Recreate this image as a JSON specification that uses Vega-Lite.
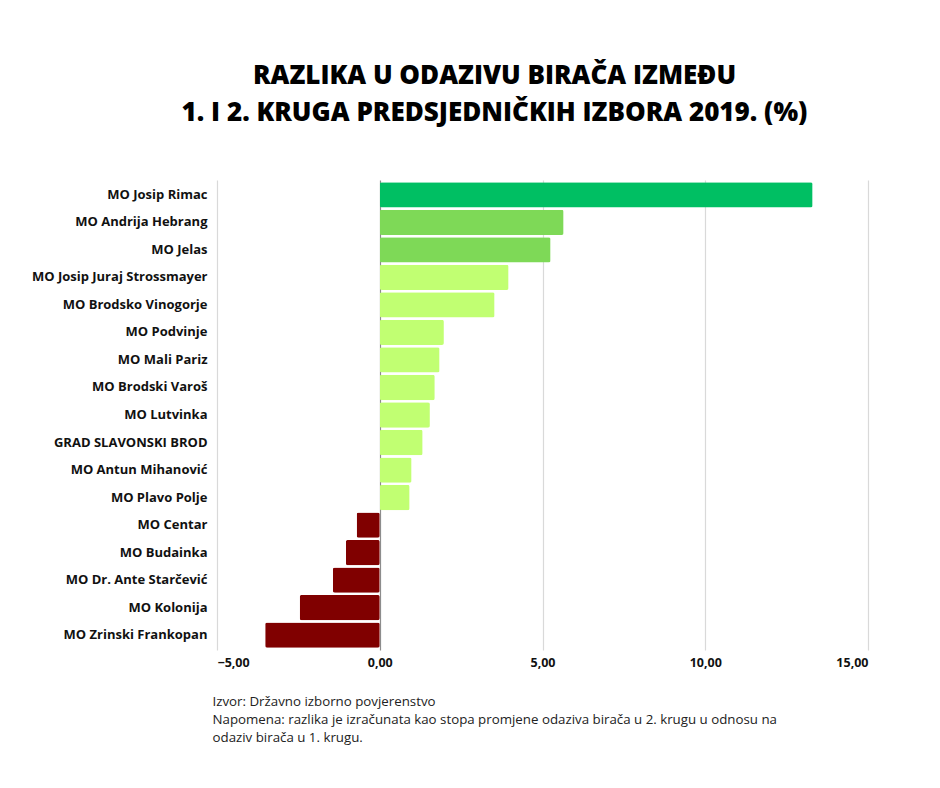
{
  "$schema": "https://vega.github.io/schema/vega-lite/v6.json",
  "autosize": "none",
  "width": 651,
  "height": 470,
  "padding": {"left": 217, "top": 180, "right": 72, "bottom": 138},
  "background": "white",
  "title": {
    "text": ["RAZLIKA U ODAZIVU BIRAČA IZMEĐU", "1. I 2. KRUGA PREDSJEDNIČKIH IZBORA 2019. (%)"],
    "font": "Open Sans",
    "fontSize": 26,
    "fontWeight": 800,
    "color": "#000000",
    "anchor": "middle",
    "frame": "group",
    "dx": -48,
    "offset": 54,
    "lineHeight": 37
  },
  "data": {
    "values": [
      {"mo": "MO Josip Rimac", "razlika": 13.30, "kategorija": "najveći rast"},
      {"mo": "MO Andrija Hebrang", "razlika": 5.65, "kategorija": "visoki rast"},
      {"mo": "MO Jelas", "razlika": 5.25, "kategorija": "visoki rast"},
      {"mo": "MO Josip Juraj Strossmayer", "razlika": 3.96, "kategorija": "rast"},
      {"mo": "MO Brodsko Vinogorje", "razlika": 3.53, "kategorija": "rast"},
      {"mo": "MO Podvinje", "razlika": 1.97, "kategorija": "rast"},
      {"mo": "MO Mali Pariz", "razlika": 1.84, "kategorija": "rast"},
      {"mo": "MO Brodski Varoš", "razlika": 1.69, "kategorija": "rast"},
      {"mo": "MO Lutvinka", "razlika": 1.54, "kategorija": "rast"},
      {"mo": "GRAD SLAVONSKI BROD", "razlika": 1.32, "kategorija": "rast"},
      {"mo": "MO Antun Mihanović", "razlika": 0.98, "kategorija": "rast"},
      {"mo": "MO Plavo Polje", "razlika": 0.92, "kategorija": "rast"},
      {"mo": "MO Centar", "razlika": -0.71, "kategorija": "pad"},
      {"mo": "MO Budainka", "razlika": -1.04, "kategorija": "pad"},
      {"mo": "MO Dr. Ante Starčević", "razlika": -1.44, "kategorija": "pad"},
      {"mo": "MO Kolonija", "razlika": -2.46, "kategorija": "pad"},
      {"mo": "MO Zrinski Frankopan", "razlika": -3.52, "kategorija": "pad"}
    ]
  },
  "mark": {"type": "bar", "cornerRadius": 2},
  "encoding": {
    "y": {
      "field": "mo",
      "type": "nominal",
      "sort": null,
      "scale": {"paddingInner": 0.08, "paddingOuter": 0.08},
      "axis": {
        "title": null,
        "domain": false,
        "ticks": false,
        "grid": false,
        "labelFont": "Open Sans",
        "labelFontSize": 13,
        "labelFontWeight": "bold",
        "labelColor": "#111111",
        "labelPadding": 10
      }
    },
    "x": {
      "field": "razlika",
      "type": "quantitative",
      "scale": {"domain": [-5, 15], "nice": false},
      "axis": {
        "values": [-5, 0, 5, 10, 15],
        "labelExpr": "replace(format(datum.value, '.2f'), '.', ',')",
        "domain": false,
        "ticks": false,
        "grid": true,
        "gridColor": {"condition": {"test": "datum.value === 0", "value": "#8c8c8c"}, "value": "#d9d9d9"},
        "gridWidth": 1.2,
        "labelFont": "Open Sans",
        "labelFontSize": 12.5,
        "labelFontWeight": "bold",
        "labelColor": "#111111",
        "labelPadding": 6,
        "title": ["Izvor: Državno izborno povjerenstvo", "Napomena: razlika je izračunata kao stopa promjene odaziva birača u 2. krugu u odnosu na", "odaziv birača u 1. krugu."],
        "titleFont": "Open Sans",
        "titleFontSize": 13.3,
        "titleFontWeight": "normal",
        "titleColor": "#222222",
        "titleAnchor": "start",
        "titleAlign": "left",
        "titleBaseline": "top",
        "titleX": -5,
        "titleY": 44,
        "titleLineHeight": 18
      }
    },
    "color": {
      "field": "kategorija",
      "type": "nominal",
      "scale": {
        "domain": ["najveći rast", "visoki rast", "rast", "pad"],
        "range": ["#00bf63", "#7ed957", "#c1ff72", "#800000"]
      },
      "legend": null
    }
  },
  "config": {"view": {"stroke": null}}
}
